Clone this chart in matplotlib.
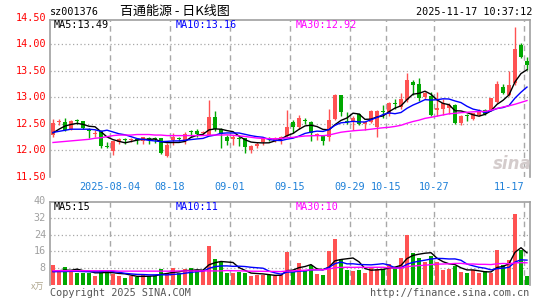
import matplotlib
matplotlib.use("Agg")
import matplotlib.pyplot as plt
import matplotlib.transforms as mtrans
import numpy as np
import pandas as pd

# ---------------- data ----------------
symbol = "sz001376"
title = "百通能源 - 日K线图"
timestamp = "2025-11-17 10:37:12"

holidays = ["2025-10-01", "2025-10-02", "2025-10-03", "2025-10-06", "2025-10-07", "2025-10-08"]
dates = [d for d in pd.bdate_range("2025-07-21", "2025-11-17").strftime("%Y-%m-%d") if d not in holidays]

open_ = [12.29, 12.53, 12.53, 12.40, 12.56, 12.56, 12.40, 12.31, 12.37, 12.09,
         11.99, 12.16, 12.20, 12.19, 12.21, 12.18, 12.23, 12.23, 12.23, 11.90,
         12.19, 12.24, 12.20, 12.35, 12.37, 12.33, 12.30, 12.63, 12.40, 12.26,
         12.21, 12.24, 12.23, 12.01, 12.09, 12.15, 12.24, 12.17, 12.21, 12.28,
         12.54, 12.44, 12.58, 12.54, 12.28, 12.29, 12.26, 12.59, 13.04, 12.56,
         12.54, 12.69, 12.50, 12.54, 12.45, 12.74, 12.69, 12.90, 12.81, 12.95,
         13.29, 13.25, 13.00, 13.03, 12.76, 12.78, 12.80, 12.86, 12.51, 12.66,
         12.59, 12.67, 12.76, 12.76, 12.92, 13.20, 13.05, 13.27, 13.99, 13.69]
high = [12.59, 12.60, 12.61, 12.58, 12.60, 12.56, 12.43, 12.39, 12.38, 12.16,
        12.18, 12.23, 12.24, 12.23, 12.22, 12.26, 12.25, 12.25, 12.24, 12.14,
        12.32, 12.26, 12.34, 12.39, 12.41, 12.37, 12.95, 12.74, 12.42, 12.30,
        12.29, 12.27, 12.24, 12.11, 12.15, 12.24, 12.26, 12.26, 12.27, 12.77,
        12.57, 12.67, 12.61, 12.56, 12.32, 12.29, 12.79, 13.06, 13.05, 12.73,
        12.64, 12.70, 12.55, 12.76, 12.76, 12.86, 12.92, 12.96, 13.08, 13.46,
        13.33, 13.36, 13.11, 13.11, 13.10, 12.96, 12.90, 12.87, 12.66, 12.68,
        12.71, 12.79, 12.78, 12.99, 13.31, 13.26, 13.50, 14.32, 14.03, 13.76]
low = [12.26, 12.47, 12.37, 12.38, 12.49, 12.41, 12.23, 12.26, 12.05, 12.04,
       11.91, 12.13, 12.13, 12.15, 12.12, 12.12, 12.13, 12.14, 11.93, 11.87,
       12.11, 12.17, 12.12, 12.26, 12.26, 12.29, 12.29, 12.37, 12.04, 12.11,
       12.10, 12.08, 11.95, 11.96, 12.05, 12.11, 12.17, 12.15, 12.12, 12.26,
       12.32, 12.40, 12.49, 12.17, 12.20, 12.10, 12.17, 12.57, 12.65, 12.50,
       12.39, 12.48, 12.39, 12.52, 12.26, 12.61, 12.65, 12.79, 12.79, 12.92,
       13.04, 12.93, 12.96, 12.65, 12.64, 12.67, 12.69, 12.50, 12.48, 12.55,
       12.58, 12.64, 12.66, 12.74, 12.90, 13.06, 13.03, 13.24, 13.74, 13.52]
close = [12.51, 12.55, 12.38, 12.56, 12.55, 12.42, 12.37, 12.33, 12.09, 12.06,
         12.17, 12.21, 12.19, 12.21, 12.19, 12.25, 12.21, 12.21, 11.96, 12.11,
         12.26, 12.21, 12.31, 12.34, 12.31, 12.35, 12.63, 12.40, 12.31, 12.18,
         12.25, 12.21, 12.06, 12.09, 12.12, 12.23, 12.22, 12.24, 12.26, 12.44,
         12.44, 12.61, 12.56, 12.33, 12.31, 12.17, 12.58, 13.04, 12.73, 12.54,
         12.62, 12.50, 12.54, 12.75, 12.74, 12.72, 12.90, 12.88, 12.96, 13.33,
         13.23, 12.98, 13.08, 12.67, 12.80, 12.90, 12.86, 12.51, 12.65, 12.64,
         12.70, 12.73, 12.68, 12.98, 13.25, 13.08, 13.24, 13.91, 13.76, 13.61]
volume = [9.4, 7.1, 8.5, 6.9, 5.9, 5.9, 5.9, 4.4, 7.1, 6.6,
          5.3, 4.1, 3.5, 4.1, 3.6, 5.3, 4.4, 4.4, 7.7, 5.6,
          8.0, 5.6, 7.5, 8.0, 7.1, 7.1, 18.4, 12.5, 10.9, 5.9,
          5.9, 6.3, 5.9, 4.4, 4.8, 5.0, 4.6, 4.1, 4.8, 15.7,
          6.3, 10.4, 6.8, 9.4, 5.3, 4.8, 16.2, 22.0, 12.4, 7.1,
          6.6, 7.1, 5.9, 8.6, 7.8, 7.8, 9.8, 8.6, 12.7, 24.0,
          15.4, 12.7, 10.9, 13.9, 10.9, 7.1, 7.7, 8.9, 6.3, 5.9,
          7.1, 5.6, 6.6, 5.9, 16.6, 9.4, 12.1, 33.8, 16.9, 4.4]

ma5_head = [12.33, 12.40, 12.46, 12.49]
ma10_head = [12.34, 12.36, 12.38, 12.40, 12.40, 12.40, 12.40, 12.39, 12.36]
ma30_head = [12.15, 12.16, 12.17, 12.18, 12.19, 12.20, 12.21, 12.23, 12.24, 12.26,
             12.28, 12.29, 12.29, 12.29, 12.30, 12.30, 12.30, 12.29, 12.29, 12.28,
             12.28, 12.28, 12.28, 12.28, 12.28, 12.28, 12.29, 12.29, 12.29]
vma5_head = [6.6, 6.8, 7.1, 7.0]
vma10_head = [6.3, 6.4, 6.4, 6.5, 6.5, 6.4, 6.3, 6.3, 6.3]
vma30_head = [6.8] * 11 + [6.6] * 10 + [6.7] * 8

price_ma_labels = ["MA5:13.49", "MA10:13.16", "MA30:12.92"]
volume_ma_labels = ["MA5:15", "MA10:11", "MA30:10"]
price_ticks = [11.50, 12.00, 12.50, 13.00, 13.50, 14.00, 14.50]
volume_ticks = [8, 16, 24, 32, 40]
label_dates = ["2025-08-04", "2025-08-18", "2025-09-01", "2025-09-15",
               "2025-09-29", "2025-10-15", "2025-10-27", "2025-11-17"]
volume_unit = "x万"
copyright_text = "Copyright 2025 SINA.COM"
url_text = "http://finance.sina.com.cn"

# ---------------- styling ----------------
W, H = 545, 300
MONO = "DejaVu Sans Mono"
CJK = ["Noto Sans CJK SC", "DejaVu Sans"]
RED = "#ff5252"
GREEN = "#00a800"
GRID = "#a8a8a8"
FRAME = "#a0a0a0"
BLUE_LBL = "#1e80d8"
FS = 7.3
BW = 0.8


def fx(px):
    return px / W


def fy(py):
    return 1 - py / H


def ma(values, n, head):
    r = pd.Series(values).rolling(n).mean().to_numpy()
    r[:n - 1] = head
    return r


fig = plt.figure(figsize=(W / 100, H / 100), dpi=100)
fig.patch.set_facecolor("white")

ax1 = fig.add_axes([fx(50), fy(177), fx(480), 157 / H])
ax2 = fig.add_axes([fx(50), fy(285), fx(480), 83 / H])

n = len(close)
x = np.arange(n)
colors = [RED if c >= o else GREEN for o, c in zip(open_, close)]

# ---- price panel ----
ax1.set_xlim(-0.5, n - 0.5)
ax1.set_ylim(11.50, 14.457)
for o, h, l, c, xi, col in zip(open_, high, low, close, x, colors):
    ax1.vlines(xi, l, h, color=col, lw=1.0, zorder=3)
    bottom = min(o, c)
    height = max(abs(c - o), 0.018)
    ax1.bar(xi, height, bottom=bottom, width=BW, color=col, linewidth=0,
            antialiased=False, zorder=4)

ax1.plot(x, ma(close, 5, ma5_head), color="black", lw=1.0, zorder=5)
ax1.plot(x, ma(close, 10, ma10_head), color="#0000ff", lw=1.0, zorder=5)
ax1.plot(x, ma(close, 30, ma30_head), color="#ff00ff", lw=1.0, zorder=5)

for v in price_ticks[1:-1]:
    ax1.axhline(v, color=GRID, lw=0.9, ls=(0, (1, 2)), zorder=1)

# ---- volume panel ----
ax2.set_xlim(-0.5, n - 0.5)
ax2.set_ylim(0, 40 * 83 / 84)
ax2.bar(x, volume, width=BW, color=colors, linewidth=0, antialiased=False, zorder=3)
ax2.plot(x, ma(volume, 5, vma5_head), color="black", lw=1.0, zorder=5)
ax2.plot(x, ma(volume, 10, vma10_head), color="#0000ff", lw=1.0, zorder=5)
ax2.plot(x, ma(volume, 30, vma30_head), color="#ff00ff", lw=1.0, zorder=5)
for v in volume_ticks[:-1]:
    ax2.axhline(v, color=GRID, lw=0.9, ls=(0, (1, 2)), zorder=1)

# ---- common frame & vertical grid ----
label_idx = [dates.index(d) for d in label_dates]
for ax in (ax1, ax2):
    ax.set_xticks([])
    ax.set_yticks([])
    for side in ("left", "right", "top"):
        ax.spines[side].set_color(FRAME)
        ax.spines[side].set_linewidth(1.2)
    ax.spines["bottom"].set_visible(False)
    for i in label_idx:
        ax.axvline(i - 0.5, color=GRID, lw=1.0, ls=(0, (4, 3)), zorder=1)

# y labels
tr1 = mtrans.blended_transform_factory(fig.transFigure, ax1.transData)
for v in price_ticks:
    ax1.text(fx(46), v, f"{v:.2f}", transform=tr1, ha="right", va="center",
             color="#ff0000", fontsize=FS, family=MONO, clip_on=False)
tr2 = mtrans.blended_transform_factory(fig.transFigure, ax2.transData)
for v in volume_ticks:
    ax2.text(fx(46), v, f"{v}", transform=tr2, ha="right", va="center",
             color="#a0a0a0", fontsize=FS, family=MONO, clip_on=False)

# x labels
trx = mtrans.blended_transform_factory(ax1.transData, fig.transFigure)
for k, (i, d) in enumerate(zip(label_idx, label_dates)):
    txt = d if k == 0 else d[5:]
    ha = "right" if k == len(label_idx) - 1 else "center"
    ax1.text(i - 0.5, fy(187), txt, transform=trx, ha=ha, va="center",
             color=BLUE_LBL, fontsize=FS, family=MONO, clip_on=False)

# header
fig.text(fx(50), fy(12), symbol, ha="left", va="center", fontsize=FS, family=MONO, color="black")
fig.text(fx(120), fy(11), title, ha="left", va="center", fontsize=9.4, family=CJK, color="black")
fig.text(fx(532), fy(12), timestamp, ha="right", va="center", fontsize=FS, family=MONO, color="black")

# MA legends
ma_cols = ["black", "#0000ff", "#ff00ff"]
ma_x = [54, 176, 296]
for lbl, col, px in zip(price_ma_labels, ma_cols, ma_x):
    fig.text(fx(px), fy(25), lbl, ha="left", va="center", fontsize=FS, family=MONO, color=col)
for lbl, col, px in zip(volume_ma_labels, ma_cols, ma_x):
    fig.text(fx(px), fy(207), lbl, ha="left", va="center", fontsize=FS, family=MONO, color=col)

# footer
fig.text(fx(44), fy(287), volume_unit, ha="right", va="center", fontsize=6.5, family=CJK, color="#b0a890")
fig.text(fx(50), fy(292.5), copyright_text, ha="left", va="center", fontsize=FS, family=MONO, color="#555555")
fig.text(fx(529), fy(292.5), url_text, ha="right", va="center", fontsize=FS, family=MONO, color="#555555")

# watermark
fig.text(fx(512), fy(164), "sina", ha="center", va="center", fontsize=12, family="DejaVu Sans",
         style="italic", weight="bold", color="#d4cccc", zorder=0)

fig.savefig("out.png", dpi=100, facecolor="white")
